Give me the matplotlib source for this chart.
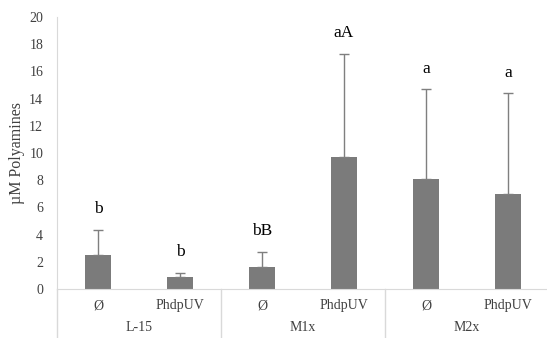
import matplotlib
matplotlib.use("Agg")
import matplotlib.pyplot as plt
import matplotlib.transforms as mtransforms
import numpy as np

plt.rcParams['font.family'] = ['Liberation Serif', 'DejaVu Serif']

groups = ['L-15', 'M1x', 'M2x']
treatments = ['Ø', 'PhdpUV', 'Ø', 'PhdpUV', 'Ø', 'PhdpUV']
means = [2.5, 0.9, 1.6, 9.7, 8.1, 7.0]
errors = [1.85, 0.3, 1.15, 7.6, 6.6, 7.4]
letters = ['b', 'b', 'bB', 'aA', 'a', 'a']

W, H = 547, 338
fig = plt.figure(figsize=(W / 100, H / 100), dpi=100)
ax = fig.add_axes([57 / W, 49 / H, 492 / W, 272 / H])

x = np.arange(len(means))
ax.bar(x, means, width=0.32, color='#7b7b7b', zorder=2)
ax.errorbar(x, means, yerr=[np.zeros(len(means)), errors], fmt='none',
            ecolor='#7f7f7f', elinewidth=1, capsize=3.5, capthick=1, zorder=3)

for xi, m, e, t in zip(x, means, errors, letters):
    ax.annotate(t, (xi, m + e), xytext=(0, 9), textcoords='offset points',
                ha='center', va='bottom', fontsize=12.5)

ax.set_xlim(-0.5, 5.5)
ax.set_ylim(0, 20)
ax.set_yticks(range(0, 21, 2))
ax.tick_params(axis='y', length=0, labelsize=10, pad=10, labelcolor='#404040')
ax.set_xticks([])
ax.set_ylabel('µM Polyamines', fontsize=11.5, labelpad=3, color='#404040')

for s in ['top', 'right']:
    ax.spines[s].set_visible(False)
ax.spines['left'].set_color('#d9d9d9')
ax.spines['bottom'].set_color('#d9d9d9')

# category axis: treatment row, group row and separators
trans = mtransforms.blended_transform_factory(ax.transData, ax.transAxes)
for xi, t in zip(x, treatments):
    ax.text(xi, -0.062, t, transform=trans, ha='center', va='center',
            fontsize=10, color='#404040')
for i, g in enumerate(groups):
    ax.text(2 * i + 0.5, -0.14, g, transform=trans, ha='center', va='center',
            fontsize=10, color='#404040')
for xs in [-0.5, 1.5, 3.5, 5.5]:
    ax.plot([xs, xs], [0, -0.2], transform=trans, color='#d9d9d9',
            lw=1, clip_on=False)

fig.savefig('out.png', dpi=100)
